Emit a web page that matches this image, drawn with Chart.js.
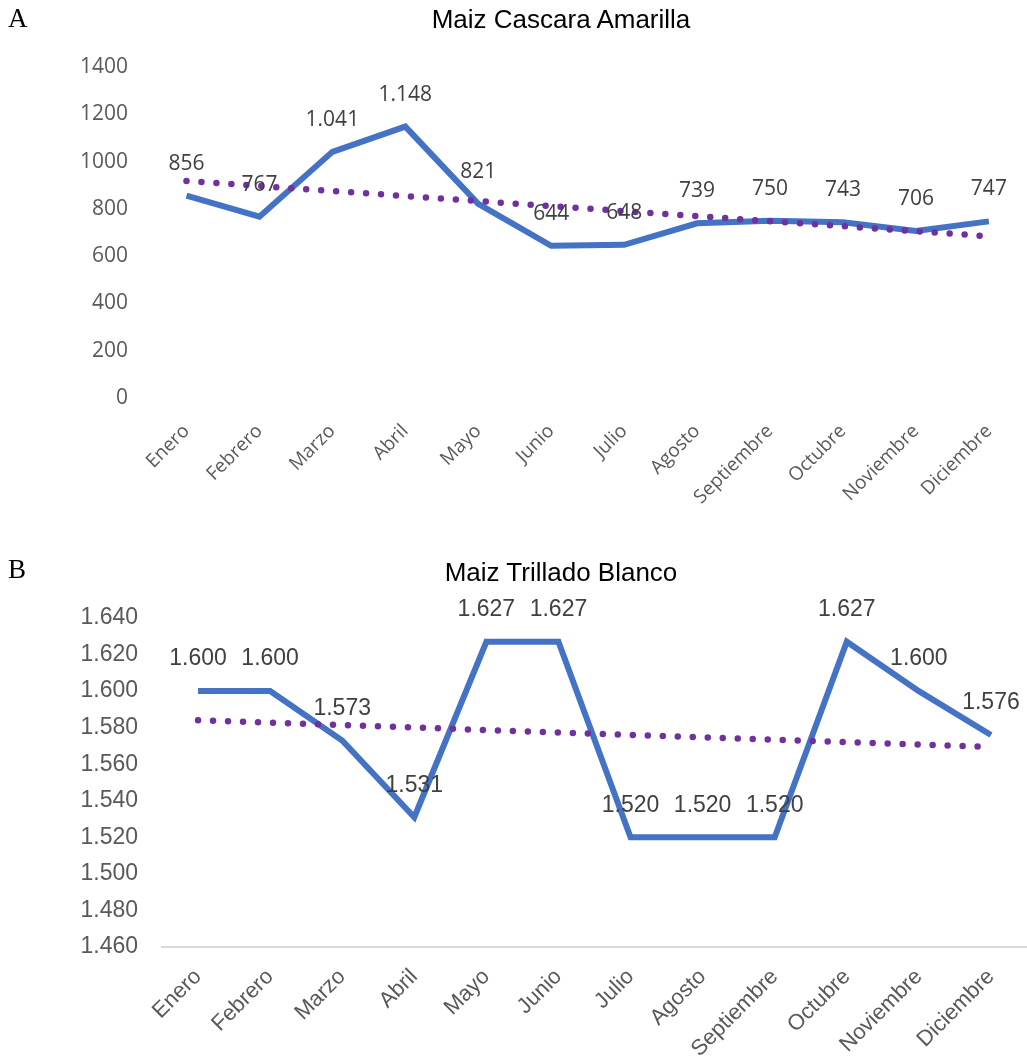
<!DOCTYPE html>
<html>
<head>
<meta charset="utf-8">
<script src="https://cdn.jsdelivr.net/npm/chart.js@4.4.0/dist/chart.umd.min.js"></script>
<style>
  body { margin: 0; background: #fff; width: 1027px; height: 1063px; position: relative; overflow: hidden; }
  .panel { position: absolute; left: 0; }
  .panel canvas { display: block; }
  .tag { position: absolute; left: 8px; font-family: 'Liberation Serif', 'Times New Roman', serif; font-size: 27px; line-height: 1; color: #000; }
  .title { position: absolute; left: 0; width: 1122px; text-align: center; font-family: 'Liberation Sans', Arial, sans-serif; font-size: 26px; line-height: 1; color: #000; }
</style>
</head>
<body>
<div class="panel" style="top:0"><canvas id="chartA" width="1027" height="530"></canvas></div>
<div class="panel" style="top:530px"><canvas id="chartB" width="1027" height="533"></canvas></div>
<div class="tag" style="top:5px">A</div>
<div class="title" style="top:6px">Maiz Cascara Amarilla</div>
<div class="tag" style="top:556px">B</div>
<div class="title" style="top:559px">Maiz Trillado Blanco</div>

<script>
// --- data ---
const months = ['Enero', 'Febrero', 'Marzo', 'Abril', 'Mayo', 'Junio', 'Julio',
  'Agosto', 'Septiembre', 'Octubre', 'Noviembre', 'Diciembre'];

const cascaraAmarilla = [856, 767, 1041, 1148, 821, 644, 648, 739, 750, 743, 706, 747];
// linear trend, read at first and last month
const cascaraTrend = [918, null, null, null, null, null, null, null, null, null, null, 684];
const ticksA = [0, 200, 400, 600, 800, 1000, 1200, 1400];

const trilladoBlanco = [1600, 1600, 1573, 1531, 1627, 1627, 1520, 1520, 1520, 1627, 1600, 1576];
const trilladoTrend = [1584, null, null, null, null, null, null, null, null, null, null, 1569.5];
const ticksB = [1460, 1480, 1500, 1520, 1540, 1560, 1580, 1600, 1620, 1640];

// 1041 -> "1.041"
function dotThousands(n) {
  if (n < 1000) return String(n);
  return Math.floor(n / 1000) + '.' + String(n % 1000).padStart(3, '0');
}

// draws the value above each point of the first dataset
const pointLabels = {
  id: 'pointLabels',
  afterDatasetsDraw(chart, args, opts) {
    const ctx = chart.ctx;
    const meta = chart.getDatasetMeta(0);
    const data = chart.data.datasets[0].data;
    ctx.save();
    ctx.font = opts.font;
    ctx.fillStyle = '#404040';
    ctx.textAlign = 'center';
    ctx.textBaseline = 'middle';
    meta.data.forEach((pt, i) => {
      ctx.fillText(dotThousands(data[i]), pt.x, pt.y - opts.offset);
    });
    ctx.restore();
  }
};

function makeChart(id, s) {
  return new Chart(document.getElementById(id), {
    type: 'line',
    data: {
      labels: months,
      datasets: [{
        data: s.values,
        borderColor: '#4472C4',
        borderWidth: 6,
        pointRadius: 0,
        tension: 0,
        order: 1
      }, {
        data: s.trend,
        borderColor: '#7030A0',
        borderWidth: 6.5,
        borderDash: [0, 15],
        borderCapStyle: 'round',
        pointRadius: 0,
        spanGaps: true,
        order: 0
      }]
    },
    options: {
      responsive: false,
      animation: false,
      layout: { padding: { top: s.top } },
      plugins: {
        legend: { display: false },
        tooltip: { enabled: false },
        title: { display: false },
        pointLabels: { font: s.labelFont, offset: 32 }
      },
      scales: {
        x: {
          offset: true,
          grid: { display: false, drawTicks: false },
          border: s.baseline ? { display: true, color: '#d9d9d9', width: 2 } : { display: false },
          ticks: {
            autoSkip: false,
            maxRotation: 45,
            minRotation: 45,
            padding: s.xPad,
            color: '#595959',
            font: s.catFont
          },
          afterFit(scale) { scale.height = s.xHeight; }
        },
        y: {
          min: s.min,
          max: s.max,
          grid: { display: false, drawTicks: false },
          border: { display: false },
          afterBuildTicks(scale) { scale.ticks = s.ticks.map(v => ({ value: v })); },
          ticks: {
            padding: s.yPad,
            color: '#595959',
            font: s.tickFont,
            callback: s.tickFormat
          },
          afterFit(scale) { scale.width = s.yWidth; }
        }
      }
    },
    plugins: [pointLabels]
  });
}

makeChart('chartA', {
  top: 67,
  values: cascaraAmarilla,
  trend: cascaraTrend,
  ticks: ticksA,
  min: 0, max: 1400,
  tickFormat: v => String(v),
  tickFont: { family: "'Open Sans', sans-serif", size: 21 },
  catFont: { family: "'Open Sans', sans-serif", size: 19 },
  labelFont: "21px 'Open Sans', sans-serif",
  baseline: false,
  xHeight: 132, xPad: 22,
  yWidth: 150, yPad: 22
});

makeChart('chartB', {
  top: 88,
  values: trilladoBlanco,
  trend: trilladoTrend,
  ticks: ticksB,
  min: 1460, max: 1640,
  tickFormat: v => dotThousands(v),
  tickFont: { family: "'Liberation Sans', Arial, sans-serif", size: 23 },
  catFont: { family: "'Liberation Sans', Arial, sans-serif", size: 22 },
  labelFont: "23px 'Liberation Sans', Arial, sans-serif",
  baseline: true,
  xHeight: 116, xPad: 17,
  yWidth: 162, yPad: 24
});
</script>
</body>
</html>
